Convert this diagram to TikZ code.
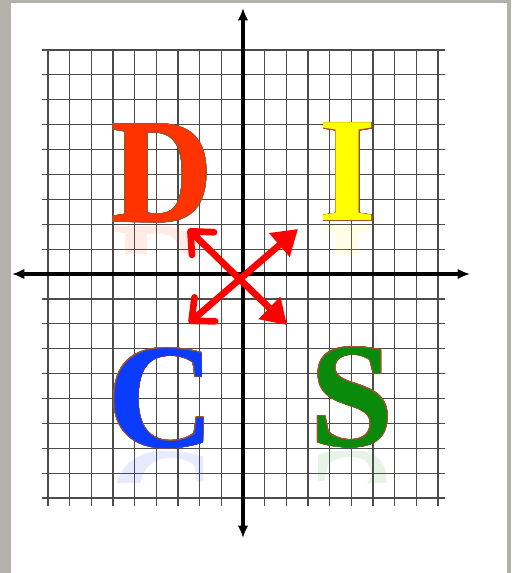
\documentclass[tikz,border=0pt]{standalone}
\usepackage{fontspec}
\usepackage{xcolor}
\usepackage{contour}
\usetikzlibrary{arrows.meta}
\newfontfamily\discfont{Liberation Serif}
\definecolor{frame}{HTML}{B2B2AA}
\definecolor{dred}{HTML}{FF3300}
\definecolor{iyellow}{HTML}{FFFF00}
\definecolor{cblue}{HTML}{0A3CFF}
\definecolor{sgreen}{HTML}{0A8A0A}
\definecolor{rim}{HTML}{A0522D}
\contourlength{0.5pt}
\contournumber{24}

\begin{document}
\begin{tikzpicture}[x=0.02cm, y=-0.02cm,
  gridline/.style={black!70, line width=0.7pt},
  axis/.style={{Latex[length=7pt,width=6pt]}-{Latex[length=7pt,width=6pt]}, line width=1.8pt},
  letter/.style={font=\discfont\bfseries\fontsize{85}{85}\selectfont, inner sep=0pt, anchor=base},
  mirror/.style={letter, yscale=-1, text opacity=0.1},
  turn/.style={{Straight Barb[length=10pt,width=18pt,round]}-{Triangle[length=14pt,width=17pt]}, red, line width=3.8pt}
]
\useasboundingbox (0,0) rectangle (511,573);
\fill[frame] (0,0) rectangle (511,573);
\fill[white] (11,3) rectangle (507,573);

% grid
\foreach \i in {0,...,18}
  \draw[gridline] ({48+21.67*\i},50) -- ({48+21.67*\i},506);
\foreach \j in {0,...,18}
  \draw[gridline] (42,{50+24.89*\j}) -- (445,{50+24.89*\j});

% axes
\coordinate (west) at (12,274);
\coordinate (east) at (470,274);
\coordinate (north) at (243,8);
\coordinate (south) at (243,538);
\draw[axis] (west) -- (east);
\draw[axis] (south) -- (north);

% reflections
\begin{scope}
  \clip (100,225) rectangle (400,254) (100,451) rectangle (400,482);
  \node[mirror, text=dred, xscale=0.94] at (162,227) {D};
  \node[mirror, text=iyellow] at (348,226) {I};
  \node[mirror, text=cblue] at (161,452) {C};
  \node[mirror, text=sgreen] at (352,451) {S};
\end{scope}

% letters
\node[letter, text=dred, xscale=0.94] (D) at (162,222) {\contour{rim}{D}};
\node[letter, text=iyellow] (I) at (348,221) {\contour{rim}{I}};
\node[letter, text=cblue] (C) at (161,447) {\contour{rim}{C}};
\node[letter, text=sgreen] (S) at (352,446) {\contour{rim}{S}};

% arrows
\coordinate (ll) at (189,323);
\coordinate (ur) at (298,229);
\coordinate (ul) at (188,229);
\coordinate (lr) at (287,325);
\draw[turn] (ll) -- (ur);
\draw[turn] (ul) -- (lr);
\end{tikzpicture}
\end{document}
